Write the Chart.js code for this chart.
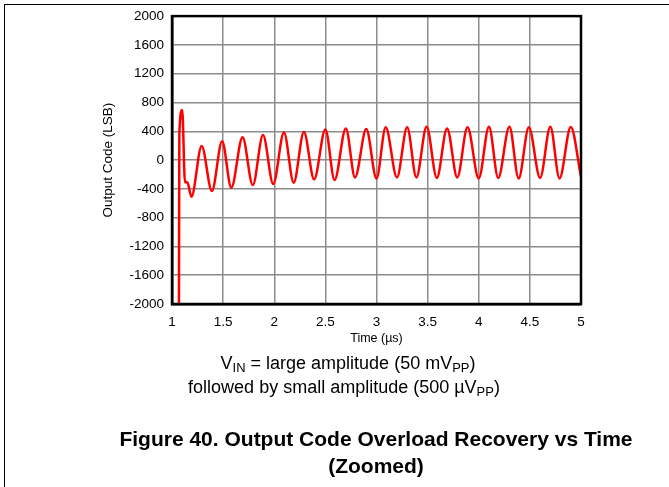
<!DOCTYPE html>
<html>
<head>
<meta charset="utf-8">
<script src="https://cdn.jsdelivr.net/npm/chart.js@4.4.1/dist/chart.umd.min.js"></script>
<style>
  body { margin: 0; background: #fff; font-family: "Liberation Sans", Arial, sans-serif; }
  #cadre { position: absolute; left: 4px; top: 4px; width: 680px; height: 500px;
           border-top: 1px solid #000; border-left: 1px solid #000; }
  #zone { position: absolute; left: 0; top: 0; width: 669px; height: 487px; }
  .legende { position: absolute; width: 600px; text-align: center; color: #000; white-space: nowrap; }
  .legende sub { font-size: 0.72em; vertical-align: -0.25em; }
  .titre { font-weight: bold; }
</style>
</head>
<body>
<div id="cadre"></div>
<div id="zone"><canvas id="graphique" width="669" height="487"></canvas></div>

<div class="legende" style="left:48px; top:353px; font-size:18px;">V<sub>IN</sub> = large amplitude (50 mV<sub>PP</sub>)</div>
<div class="legende" style="left:44px; top:377px; font-size:18px;">followed by small amplitude (500 µV<sub>PP</sub>)</div>
<div class="legende titre" style="left:76px; top:427px; font-size:21px;">Figure 40. Output Code Overload Recovery vs Time</div>
<div class="legende titre" style="left:76px; top:454px; font-size:21px;">(Zoomed)</div>

<script>
// Temps (µs) et code de sortie (LSB)
const temps = [
    1.068, 1.072, 1.10, 1.127, 1.15, 1.19, 1.29, 1.39, 1.49, 1.58,
    1.69, 1.79, 1.89, 1.99, 2.095, 2.19, 2.29, 2.39, 2.50, 2.59,
    2.70, 2.79, 2.90, 3.00, 3.09, 3.20, 3.30, 3.39, 3.49, 3.59,
    3.69, 3.79, 3.89, 4.00, 4.10, 4.19, 4.30, 4.39, 4.49, 4.60,
    4.70, 4.79, 4.90, 5.00
];
const codeSortie = [
    -2000, 370, 694, -310, -310, -510, 195, -430, 260, -384,
    318, -347, 347, -333, 382, -315, 390, -268, 426, -278,
    440, -241, 430, -255, 454, -241, 454, -241, 463, -248,
    440, -241, 454, -255, 463, -248, 463, -255, 454, -248,
    463, -255, 460, -232
];

const ticksY = [2000, 1600, 1200, 800, 400, 0, -400, -800, -1200, -1600, -2000];
const ticksX = [1, 1.5, 2, 2.5, 3, 3.5, 4, 4.5, 5];

const points = temps.map((t, i) => ({ x: t, y: codeSortie[i] }));
const police = { family: "'Liberation Sans', Arial, sans-serif", size: 13.5 };

new Chart(document.getElementById('graphique'), {
    type: 'scatter',
    data: {
        datasets: [{
            data: points,
            showLine: true,
            borderColor: '#ff0000',
            borderWidth: 2.5,
            pointRadius: 0,
            cubicInterpolationMode: 'monotone',
        }],
    },
    options: {
        responsive: false,
        animation: false,
        layout: { padding: { left: 0, top: 16, right: 88, bottom: 141 } },
        plugins: { legend: { display: false }, tooltip: { enabled: false } },
        scales: {
            x: {
                type: 'linear',
                min: 1,
                max: 5,
                afterBuildTicks: (axe) => { axe.ticks = ticksX.map(v => ({ value: v })); },
                afterFit: (axe) => { axe.height = 42; },
                ticks: {
                    color: '#000',
                    font: police,
                    padding: 10,
                    maxRotation: 0,
                    callback: (v) => String(v),
                },
                grid: { color: '#8c8c8c', lineWidth: 1.5, drawTicks: false },
                border: { color: '#000', width: 2.5 },
                title: {
                    display: true,
                    text: 'Time (µs)',
                    color: '#000',
                    font: { family: police.family, size: 12.5 },
                    padding: { top: 0, bottom: 0 },
                },
            },
            y: {
                min: -2000,
                max: 2000,
                afterFit: (axe) => { axe.width = 172; },
                ticks: {
                    stepSize: 200,
                    color: '#000',
                    font: police,
                    padding: 8,
                    // une étiquette sur deux seulement
                    callback: (v) => ticksY.includes(v) ? String(v) : '',
                },
                grid: { color: '#8c8c8c', lineWidth: 1.5, drawTicks: false },
                border: { color: '#000', width: 2.5 },
                title: {
                    display: true,
                    text: 'Output Code (LSB)',
                    color: '#000',
                    font: { family: police.family, size: 13.5 },
                    padding: { top: 100, bottom: 0 },
                },
            },
        },
    },
    plugins: [{
        // cadre noir autour de la zone de tracé
        id: 'cadreTrace',
        afterDraw(chart) {
            const { ctx, chartArea: a } = chart;
            ctx.save();
            ctx.strokeStyle = '#000';
            ctx.lineWidth = 2.5;
            ctx.strokeRect(a.left, a.top, a.right - a.left, a.bottom - a.top);
            ctx.restore();
        },
    }],
});
</script>
</body>
</html>
